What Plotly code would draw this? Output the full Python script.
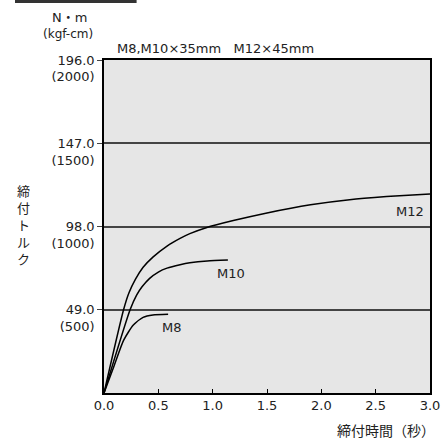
import plotly.graph_objects as go

FONT = "DejaVu Sans, Noto Sans CJK JP, sans-serif"
JP = "Noto Sans CJK JP, sans-serif"
TEXT = "#222222"

# curves (time in s, torque in N·m)
m12_t = [0, 0.18, 0.23, 0.29, 0.36, 0.45, 0.58, 0.70, 0.79, 0.94, 1.19, 1.50, 1.90, 2.26, 2.60, 3.0]
m12_v = [0, 49, 59, 67, 74, 80, 86.5, 91, 93.8, 97.3, 101.5, 106, 110.8, 113.8, 115.6, 117.2]

m10_t = [0, 0.24, 0.30, 0.35, 0.42, 0.50, 0.58, 0.70, 0.79, 0.95, 1.14]
m10_v = [0, 49, 57.6, 62.5, 67.5, 71.2, 73.5, 75.5, 76.6, 77.7, 78.3]

m8_t = [0, 0.09, 0.18, 0.27, 0.36, 0.45, 0.59]
m8_v = [0, 15.5, 31, 40, 44.5, 45.9, 46.3]

y_ticks = [49, 98, 147, 196]
y_labels = ["<br>49.0<br>(500)", "<br>98.0<br>(1000)", "<br>147.0<br>(1500)", "<br>196.0<br>(2000)"]
x_ticks = [0, 0.5, 1.0, 1.5, 2.0, 2.5, 3.0]
x_labels = ["0.0", "0.5", "1.0", "1.5", "2.0", "2.5", "3.0"]

fig = go.Figure()
for t, v in [(m12_t, m12_v), (m10_t, m10_v), (m8_t, m8_v)]:
    fig.add_trace(go.Scatter(
        x=t, y=v, mode="lines",
        line=dict(color="black", width=1.5, shape="spline", smoothing=0.6),
        showlegend=False, hoverinfo="skip",
    ))

fig.update_layout(
    width=442, height=440,
    margin=dict(l=104, r=12, t=60, b=47),
    paper_bgcolor="white",
    plot_bgcolor="#e6e6e6",
    font=dict(family=FONT, color=TEXT, size=13),
)
fig.update_xaxes(
    range=[0, 3.0], tickvals=x_ticks, ticktext=x_labels,
    showgrid=False, zeroline=False, automargin=False,
    showline=True, linecolor="black", linewidth=1.5, mirror=True,
    ticks="inside", ticklen=4, tickcolor="black",
    tickfont=dict(size=13),
)
fig.update_yaxes(
    range=[0, 196], tickvals=y_ticks, ticktext=y_labels,
    showgrid=True, gridcolor="#444444", gridwidth=1.5, zeroline=False, automargin=False,
    showline=True, linecolor="black", linewidth=1.5, mirror=True,
    ticks="outside", ticklen=5, tickcolor="#444444",
    tickfont=dict(size=13),
)

# top-left bar
fig.add_shape(type="line", xref="paper", yref="paper",
              x0=-0.273, x1=0.10, y0=1.176, y1=1.176,
              line=dict(color="#333333", width=3))

def note(x, y, text, size=13, family=FONT, xanchor="center"):
    fig.add_annotation(xref="paper", yref="paper", x=x, y=y, text=text,
                       xanchor=xanchor, yanchor="middle", showarrow=False,
                       font=dict(size=size, family=family, color=TEXT))

note(-0.107, 1.129, "N・m")
note(-0.11, 1.078, "(kgf-cm)", size=12)
note(0.035, 1.036, "M8,M10×35mm   M12×45mm", xanchor="left")
note(-0.248, 0.507, "締<br>付<br>ト<br>ル<br>ク", family=JP)
note(0.709, -0.111, "締付時間（秒）", size=14, family=JP, xanchor="left")

for x, y, s in [(2.815, 106.6, "M12"), (1.17, 70.4, "M10"), (0.63, 38.6, "M8")]:
    fig.add_annotation(x=x, y=y, text=s, showarrow=False,
                       font=dict(size=13, family=FONT, color=TEXT))

# drop the default page margin so the figure sits at the window's corner
fig.write_html("out.html", config={"displayModeBar": False},
               post_script="document.body.style.margin='0';")
